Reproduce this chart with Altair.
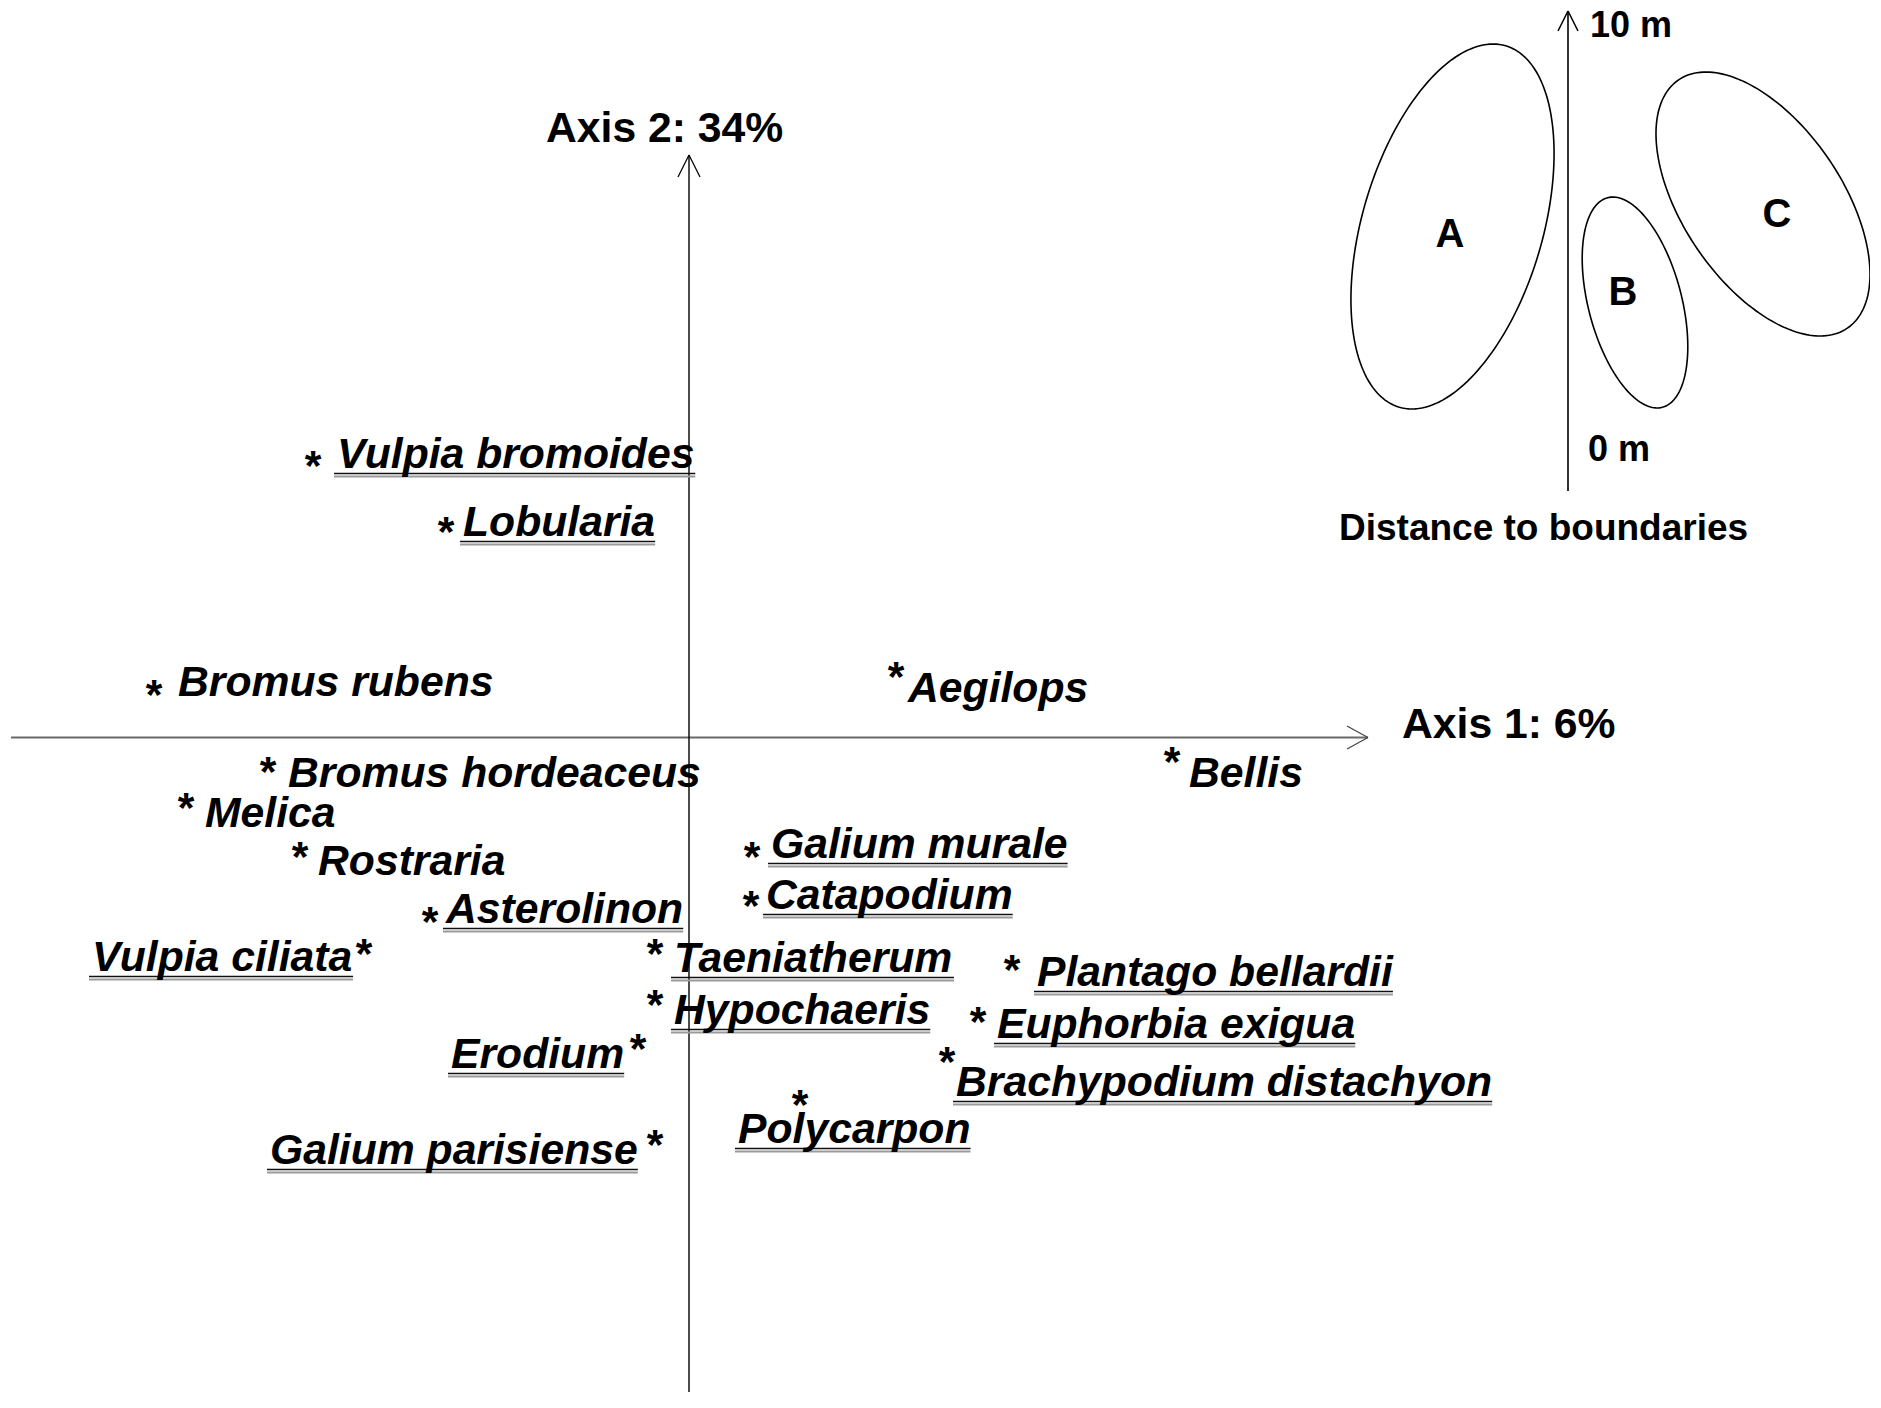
import altair as alt
import pandas as pd
import numpy as np

# ---------------- species scores (axis units) ----------------
species = ["Vulpia bromoides", "Lobularia", "Bromus rubens", "Aegilops", "Bellis",
           "Bromus hordeaceus", "Melica", "Rostraria", "Asterolinon", "Vulpia ciliata",
           "Taeniatherum", "Hypochaeris", "Erodium", "Galium parisiense", "Galium murale",
           "Catapodium", "Plantago bellardii", "Euphorbia exigua",
           "Brachypodium distachyon", "Polycarpon"]
star_x = [-3.76, -2.43, -5.35, 2.07, 4.83, -4.21, -5.03, -3.89, -2.59, -3.25,
          -0.34, -0.34, -0.51, -0.34, 0.63, 0.62, 3.23, 2.89, 2.58, 1.11]
star_y = [2.815, 2.155, 0.525, 0.705, -0.145, -0.245, -0.605, -1.095, -1.745, -2.065,
          -2.065, -2.575, -3.015, -3.975, -1.095, -1.585, -2.225, -2.745, -3.145, -3.57]
label_x = [-3.52, -2.26, -5.11, 2.19, 5.00, -4.01, -4.84, -3.71, -2.43, -5.97,
           -0.15, -0.15, -2.38, -4.19, 0.82, 0.77, 3.48, 3.08, 2.67, 0.49]
label_y = [2.695, 2.015, 0.415, 0.355, -0.495, -0.495, -0.895, -1.375, -1.855, -2.335,
           -2.345, -2.865, -3.305, -4.265, -1.205, -1.715, -2.485, -3.005, -3.585, -4.055]
underlined = [True, True, False, False, False, False, False, False, True, True,
              True, True, True, True, True, True, True, True, True, True]

# ---------------- axes ----------------
axis_titles = ["Axis 1: 6%", "Axis 2: 34%"]
axis_title_x = [7.13, -1.43]
axis_title_y = [-0.005, 5.955]
axis1_from, axis1_to = -6.78, 6.79
axis2_to = 5.825

# ---------------- inset: distance to boundaries ----------------
groups = ["A", "B", "C"]
group_cx = [7.635, 9.46, 10.74]
group_cy = [5.11, 4.35, 5.335]
group_a = [1.884, 1.083, 1.501]
group_b = [0.902, 0.467, 0.796]
group_angle = [73.6, -75.4, -55.8]
group_label_x = [7.61, 9.34, 10.88]
group_label_y = [5.045, 4.465, 5.245]
inset_axis_x = 8.79
inset_axis_from, inset_axis_to = 2.465, 7.265
inset_texts = ["10 m", "0 m", "Distance to boundaries"]
inset_text_x = [9.01, 8.99, 6.50]
inset_text_y = [7.005, 2.765, 1.975]
inset_text_size = [36, 36, 37]

# ---------------- layout ----------------
W, H = 1862, 1384
PX = 100.0  # pixels per axis unit
XMIN = (8 - 689) / PX
XMAX = XMIN + W / PX
YMAX = (737.5 - 8) / PX
YMIN = YMAX - H / PX
FONT = "Liberation Sans"
FS = 42.7

# Arial/Liberation Sans Bold advance widths (per em)
ADV = {" ": .278, "A": .722, "B": .722, "C": .722, "E": .667, "G": .778, "H": .722,
       "L": .611, "M": .833, "P": .667, "R": .722, "T": .611, "V": .667,
       "a": .556, "b": .611, "c": .556, "d": .611, "e": .556, "g": .611, "h": .611,
       "i": .278, "l": .278, "m": .889, "n": .611, "o": .611, "p": .611, "r": .389,
       "s": .556, "t": .333, "u": .611, "x": .556, "y": .556}

xs = alt.Scale(domain=[XMIN, XMAX], nice=False, zero=False)
ys = alt.Scale(domain=[YMIN, YMAX], nice=False, zero=False)

sp = pd.DataFrame({"name": species, "sx": star_x, "sy": star_y,
                   "lx": label_x, "ly": label_y, "ul": underlined})
sp["ux1"] = sp["lx"] - 0.03
sp["ux2"] = sp["lx"] + sp["name"].map(lambda s: sum(ADV.get(c, .6) for c in s)) * FS / PX
sp["uy1"] = sp["ly"] - 0.055
sp["uy2"] = sp["ly"] - 0.085
ul = sp[sp["ul"]]


def seg_df(rows):
    return pd.DataFrame(rows, columns=["x", "y", "x2", "y2"])


def head(tx, ty, dx, dy, back, half):
    # open arrow head, direction (dx, dy) unit vector
    bx, by = tx - dx * back, ty - dy * back
    px, py = -dy * half, dx * half
    return [(bx + px, by + py, tx, ty), (bx - px, by - py, tx, ty)]


def rules(df, color, width):
    return alt.Chart(df).mark_rule(color=color, strokeWidth=width).encode(
        x=alt.X("x:Q", scale=xs, axis=None), y=alt.Y("y:Q", scale=ys, axis=None),
        x2="x2:Q", y2="y2:Q")


h_axis = rules(seg_df([(axis1_from, 0, axis1_to, 0)]), "#6a6a6a", 2)
h_head = rules(seg_df(head(axis1_to, 0, 1, 0, 0.21, 0.115)), "#444444", 1.2)
v_axis = rules(seg_df([(0, YMIN, 0, axis2_to)]), "#000000", 1.4)
v_head = rules(seg_df(head(0, axis2_to, 0, 1, 0.22, 0.11)), "#000000", 1.2)
i_axis = rules(seg_df([(inset_axis_x, inset_axis_from, inset_axis_x, inset_axis_to)]
                      + head(inset_axis_x, inset_axis_to, 0, 1, 0.20, 0.10)), "#000000", 1.6)

ul_dark = alt.Chart(ul).mark_rule(color="#111111", strokeWidth=1.6).encode(
    x=alt.X("ux1:Q", scale=xs, axis=None), x2="ux2:Q",
    y=alt.Y("uy1:Q", scale=ys, axis=None))
ul_gray = alt.Chart(ul).mark_rule(color="#9a9a9a", strokeWidth=2.2).encode(
    x=alt.X("ux1:Q", scale=xs, axis=None), x2="ux2:Q",
    y=alt.Y("uy2:Q", scale=ys, axis=None))

names = alt.Chart(sp).mark_text(align="left", baseline="alphabetic", font=FONT,
                                fontSize=FS, fontWeight="bold", fontStyle="italic",
                                color="#000000").encode(
    x=alt.X("lx:Q", scale=xs, axis=None), y=alt.Y("ly:Q", scale=ys, axis=None),
    text="name:N")
stars = alt.Chart(sp).mark_text(align="center", baseline="alphabetic", font=FONT,
                                fontSize=FS, fontWeight="bold", dy=24,
                                color="#000000").encode(
    x=alt.X("sx:Q", scale=xs, axis=None), y=alt.Y("sy:Q", scale=ys, axis=None),
    text=alt.value("*"))

at = pd.DataFrame({"t": axis_titles, "x": axis_title_x, "y": axis_title_y})
axis_text = alt.Chart(at).mark_text(align="left", baseline="alphabetic", font=FONT,
                                    fontSize=FS, fontWeight="bold", color="#000000").encode(
    x=alt.X("x:Q", scale=xs, axis=None), y=alt.Y("y:Q", scale=ys, axis=None), text="t:N")

# ellipses outlines from centre / semi-axes / rotation
rows = []
tt = np.linspace(0, 2 * np.pi, 181)
for g, cx, cy, a, b, ang in zip(groups, group_cx, group_cy, group_a, group_b, group_angle):
    phi = np.deg2rad(ang)
    for k, t in enumerate(tt):
        rows.append({"g": g, "k": k,
                     "x": cx + a * np.cos(t) * np.cos(phi) - b * np.sin(t) * np.sin(phi),
                     "y": cy + a * np.cos(t) * np.sin(phi) + b * np.sin(t) * np.cos(phi)})
ell = pd.DataFrame(rows)
ellipses = alt.Chart(ell).mark_line(color="#000000", strokeWidth=1.6).encode(
    x=alt.X("x:Q", scale=xs, axis=None), y=alt.Y("y:Q", scale=ys, axis=None),
    detail="g:N", order="k:Q")

gl = pd.DataFrame({"g": groups, "x": group_label_x, "y": group_label_y})
group_text = alt.Chart(gl).mark_text(align="center", baseline="alphabetic", font=FONT,
                                     fontSize=40, fontWeight="bold", dy=14,
                                     color="#000000").encode(
    x=alt.X("x:Q", scale=xs, axis=None), y=alt.Y("y:Q", scale=ys, axis=None), text="g:N")

it = pd.DataFrame({"t": inset_texts, "x": inset_text_x, "y": inset_text_y,
                   "s": inset_text_size})
inset_text = alt.Chart(it).mark_text(align="left", baseline="alphabetic", font=FONT,
                                     fontWeight="bold", color="#000000").encode(
    x=alt.X("x:Q", scale=xs, axis=None), y=alt.Y("y:Q", scale=ys, axis=None), text="t:N",
    size=alt.Size("s:Q", scale=None, legend=None))

chart = alt.layer(h_axis, h_head, v_axis, v_head, ul_gray, ul_dark, names, stars,
                  axis_text, ellipses, group_text, i_axis, inset_text).properties(
    width=W, height=H, padding=0, autosize=alt.AutoSizeParams(type="none"),
    background="white").configure_view(strokeWidth=0)

chart.save("out.html", embed_options={"renderer": "svg", "actions": False})
